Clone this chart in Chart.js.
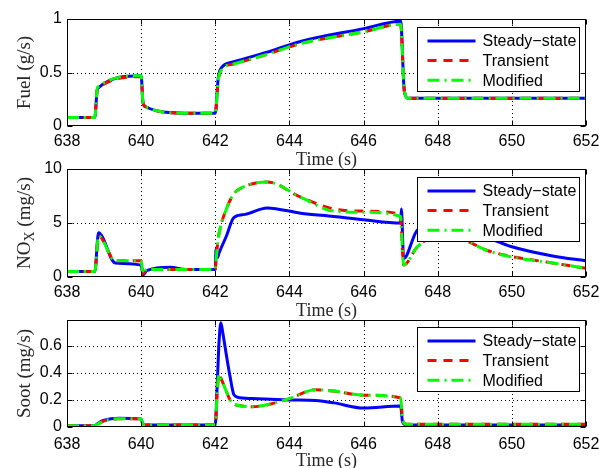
<!DOCTYPE html>
<html>
<head>
<meta charset="utf-8">
<script src="https://cdn.jsdelivr.net/npm/chart.js@4.4.0/dist/chart.umd.min.js"></script>
<style>
    html, body { margin: 0; background: #fff; }
    #wrap { position: relative; width: 599px; height: 468px; }
    canvas { position: absolute; left: 0; top: 0; }
</style>
</head>
<body>
<div id="wrap">
    <canvas id="fuelChart" width="599" height="468"></canvas>
    <canvas id="noxChart" width="599" height="468"></canvas>
    <canvas id="sootChart" width="599" height="468"></canvas>
</div>
<script>
// eje x comun
const timeTicks = [638, 640, 642, 644, 646, 648, 650, 652];
const seriesNames = ['Steady\u2212state', 'Transient', 'Modified'];

// Fuel (g/s)
const fuelTime      = [638, 638.75, 638.82, 640.0, 640.05, 640.12, 641.2, 642.0, 642.08, 642.18, 642.5, 643.4, 644.3, 646, 647.0, 647.1, 647.2, 652];
const fuelSteady    = [0.08, 0.08, 0.35, 0.47, 0.22, 0.18, 0.12, 0.12, 0.45, 0.55, 0.60, 0.69, 0.79, 0.91, 0.98, 0.32, 0.26, 0.26];
const fuelTransient = [0.08, 0.08, 0.35, 0.46, 0.22, 0.18, 0.12, 0.12, 0.43, 0.53, 0.58, 0.67, 0.77, 0.88, 0.95, 0.33, 0.26, 0.26];
const fuelModified  = [0.08, 0.08, 0.36, 0.47, 0.22, 0.18, 0.12, 0.12, 0.43, 0.53, 0.58, 0.67, 0.77, 0.88, 0.95, 0.33, 0.26, 0.26];
const fuelTicks     = [0, 0.5, 1];

// NOx (mg/s)
const noxTime      = [638, 638.75, 638.85, 639.3, 640.0, 640.05, 640.15, 640.8, 641.2, 642.0, 642.02, 642.06, 642.1, 642.3, 642.5, 642.8, 643.4, 644.3, 645.2, 646, 647, 647.02, 647.08, 647.45, 648, 648.8, 649.3, 650, 651.1, 652];
const noxSteady    = [0.5, 0.5, 4.1, 1.3, 1.1, 0.2, 0.6, 0.9, 0.7, 0.7, 2.6, 1.8, 2.2, 3.8, 5.5, 5.8, 6.4, 5.9, 5.6, 5.3, 5.0, 6.3, 1.7, 4.35, 4.9, 4.3, 3.7, 2.8, 1.95, 1.5];
const noxTransient = [0.5, 0.5, 3.8, 1.5, 1.5, 0.3, 0.7, 0.7, 0.7, 0.7, 1.5, 3.0, 4.0, 6.3, 7.7, 8.4, 8.8, 7.4, 6.3, 6.1, 5.8, 4.5, 1.1, 2.8, 3.8, 3.3, 2.5, 1.9, 1.3, 0.8];
const noxModified  = [0.5, 0.5, 3.8, 1.5, 1.5, 0.3, 0.7, 0.7, 0.7, 0.7, 1.5, 3.0, 4.0, 6.3, 7.7, 8.4, 8.8, 7.4, 6.1, 6.0, 5.6, 4.5, 1.1, 2.8, 3.8, 3.3, 2.5, 1.85, 1.3, 0.8];
const noxTicks     = [0, 5, 10];

// Soot (mg/s)
const sootTime      = [638, 638.75, 638.85, 639.0, 639.4, 640.0, 640.05, 642.0, 642.05, 642.1, 642.15, 642.2, 642.3, 642.4, 642.5, 642.6, 643.0, 643.5, 644.0, 644.7, 645.2, 646.0, 647.0, 647.05, 647.15, 652];
const sootSteady    = [0.01, 0.01, 0.03, 0.05, 0.065, 0.06, 0.015, 0.015, 0.3, 0.62, 0.77, 0.7, 0.53, 0.37, 0.24, 0.22, 0.21, 0.205, 0.2, 0.195, 0.178, 0.14, 0.155, 0.04, 0.015, 0.015];
const sootTransient = [0.01, 0.01, 0.025, 0.045, 0.06, 0.06, 0.015, 0.015, 0.25, 0.39, 0.36, 0.33, 0.26, 0.2, 0.17, 0.16, 0.15, 0.17, 0.21, 0.275, 0.265, 0.235, 0.215, 0.06, 0.02, 0.02];
const sootModified  = [0.01, 0.01, 0.025, 0.045, 0.06, 0.06, 0.015, 0.015, 0.25, 0.39, 0.36, 0.33, 0.26, 0.2, 0.17, 0.16, 0.15, 0.17, 0.21, 0.275, 0.265, 0.235, 0.215, 0.06, 0.02, 0.02];
const sootTicks     = [0, 0.2, 0.4, 0.6];

const lineStyles = [
    { color: '#0000ff', dash: [], order: 3 },
    { color: '#ff0000', dash: [9, 7], order: 2 },
    { color: '#00ff00', dash: [12, 5, 2, 5], order: 1 }
];

const sansFont = '"Liberation Sans", Arial, sans-serif';
const serifFont = '"Liberation Serif", "Times New Roman", serif';

// rejilla punteada (con rectangulos de 1px)
function drawGrid(chart, yTicks) {
    const { ctx, chartArea: a, scales: { x, y } } = chart;
    ctx.save();
    ctx.fillStyle = '#000';
    const t = Math.round(a.top), b = Math.round(a.bottom);
    const l = Math.round(a.left), r = Math.round(a.right);
    timeTicks.slice(1, -1).forEach(v => {
        const px = Math.round(x.getPixelForValue(v));
        for (let yy = t + 2; yy < b - 1; yy += 4) ctx.fillRect(px, yy, 1, 1);
    });
    yTicks.forEach(v => {
        const py = Math.round(y.getPixelForValue(v));
        if (py < t + 2 || py > b - 2) return;
        for (let xx = l + 2; xx < r - 1; xx += 4) ctx.fillRect(xx, py, 1, 1);
    });
    ctx.restore();
}

const panelPlugin = {
    id: 'panel',
    beforeDatasetsDraw(chart, args, opts) {
        drawGrid(chart, opts.yTicks);
    },
    afterDatasetsDraw(chart, args, opts) {
        const { ctx, chartArea: a, scales: { x, y } } = chart;
        const l = Math.round(a.left) + 0.5, r = Math.round(a.right) - 0.5;
        const t = Math.round(a.top) + 0.5, b = Math.round(a.bottom) - 0.5;
        ctx.save();
        ctx.strokeStyle = '#000';
        ctx.lineWidth = 1;
        ctx.setLineDash([]);
        ctx.strokeRect(l, t, r - l, b - t);
        ctx.beginPath();
        timeTicks.forEach(v => {
            const px = Math.round(x.getPixelForValue(v)) + 0.5;
            ctx.moveTo(px, b); ctx.lineTo(px, b - 5);
            ctx.moveTo(px, t); ctx.lineTo(px, t + 5);
        });
        opts.yTicks.forEach(v => {
            const py = Math.round(y.getPixelForValue(v)) + 0.5;
            ctx.moveTo(l, py); ctx.lineTo(l + 5, py);
            ctx.moveTo(r, py); ctx.lineTo(r - 5, py);
        });
        ctx.stroke();

        // etiqueta del eje y (con subindice)
        ctx.save();
        ctx.translate(25, (a.top + a.bottom) / 2);
        ctx.rotate(-Math.PI / 2);
        ctx.fillStyle = '#262626';
        ctx.textBaseline = 'middle';
        let total = 0;
        opts.ylabel.forEach(p => {
            ctx.font = (p.sub ? 14 : 19) + 'px ' + serifFont;
            total += ctx.measureText(p.text).width;
        });
        let cx = -total / 2;
        opts.ylabel.forEach(p => {
            ctx.font = (p.sub ? 14 : 19) + 'px ' + serifFont;
            ctx.fillText(p.text, cx, p.sub ? 5 : 0);
            cx += ctx.measureText(p.text).width;
        });
        ctx.restore();

        // leyenda
        const bw = 162, bh = 64;
        const bx = Math.round(a.right) - 7 - bw + 0.5;
        const by = Math.round(a.top) + opts.legendTop + 0.5;
        ctx.fillStyle = '#fff';
        ctx.fillRect(bx, by, bw, bh);
        ctx.strokeStyle = '#000';
        ctx.strokeRect(bx, by, bw, bh);
        ctx.font = '16px ' + sansFont;
        ctx.textBaseline = 'middle';
        seriesNames.forEach((name, i) => {
            const ry = by + 13.5 + i * 19.6;
            const st = lineStyles[i];
            ctx.strokeStyle = st.color;
            ctx.lineWidth = 3;
            ctx.setLineDash(st.dash);
            ctx.beginPath();
            ctx.moveTo(bx + 10, ry);
            ctx.lineTo(bx + 58, ry);
            ctx.stroke();
            ctx.fillStyle = '#000';
            ctx.fillText(name, bx + 65, ry + 1);
        });
        ctx.restore();
    }
};

function makePanel(id, time, series, yTicks, yMax, ylabel, top, bottom, labelPad, legendTop) {
    return new Chart(document.getElementById(id), {
        type: 'line',
        data: {
            datasets: series.map((vals, i) => ({
                label: seriesNames[i],
                data: time.map((t, k) => ({ x: t, y: vals[k] })),
                borderColor: lineStyles[i].color,
                borderDash: lineStyles[i].dash,
                borderWidth: 3,
                pointRadius: 0,
                cubicInterpolationMode: 'monotone',
                order: lineStyles[i].order
            }))
        },
        options: {
            responsive: false,
            animation: false,
            devicePixelRatio: 1,
            events: [],
            layout: { padding: { top: top, right: 13, left: 0, bottom: 468 - bottom - 45 } },
            plugins: {
                legend: { display: false },
                tooltip: { enabled: false },
                panel: { ylabel: ylabel, yTicks: yTicks, legendTop: legendTop }
            },
            scales: {
                x: {
                    type: 'linear',
                    min: 638,
                    max: 652,
                    afterBuildTicks: s => { s.ticks = timeTicks.map(v => ({ value: v })); },
                    afterFit: s => { s.height = 45; s.paddingLeft = 0; s.paddingRight = 0; },
                    grid: { display: false, drawTicks: false },
                    border: { display: false },
                    ticks: { color: '#000', padding: labelPad, maxRotation: 0, font: { family: sansFont, size: 16 },
                        callback: v => String(v) },
                    title: { display: true, text: 'Time (s)', color: '#262626', padding: 0, font: { family: serifFont, size: 18 } }
                },
                y: {
                    type: 'linear',
                    min: 0,
                    max: yMax,
                    afterBuildTicks: s => { s.ticks = yTicks.map(v => ({ value: v })); },
                    afterFit: s => { s.width = 67; s.paddingTop = 0; s.paddingBottom = 0; },
                    grid: { display: false, drawTicks: false },
                    border: { display: false },
                    ticks: { color: '#000', padding: 5, font: { family: sansFont, size: 16 },
                        callback: v => String(v) }
                }
            }
        },
        plugins: [panelPlugin]
    });
}

makePanel('fuelChart', fuelTime, [fuelSteady, fuelTransient, fuelModified], fuelTicks, 1,
    [{ text: 'Fuel (g/s)' }], 19, 126, 6, 8);
makePanel('noxChart', noxTime, [noxSteady, noxTransient, noxModified], noxTicks, 10,
    [{ text: 'NO' }, { text: 'X', sub: true }, { text: ' (mg/s)' }], 169, 277, 6, 8);
makePanel('sootChart', sootTime, [sootSteady, sootTransient, sootModified], sootTicks, 0.79,
    [{ text: 'Soot (mg/s)' }], 320, 427, 8, 7);
</script>
</body>
</html>
